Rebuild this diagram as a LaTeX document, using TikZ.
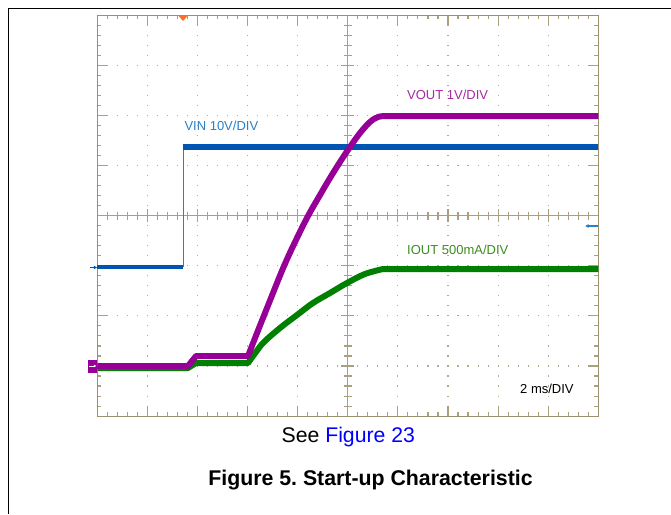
\documentclass[tikz,border=0pt]{standalone}
\usepackage{fontspec}
\setmainfont{Liberation Sans}
\usetikzlibrary{arrows.meta}

\definecolor{scopegrid}{RGB}{155,145,112}
\definecolor{scopetick}{RGB}{170,160,126}
\definecolor{scopedot}{RGB}{178,170,138}
\definecolor{vinblue}{RGB}{0,84,178}
\definecolor{vinlabel}{RGB}{40,128,200}
\definecolor{voutmag}{RGB}{150,0,150}
\definecolor{voutlabel}{RGB}{165,40,165}
\definecolor{ioutgreen}{RGB}{0,128,0}
\definecolor{ioutlabel}{RGB}{60,140,30}
\definecolor{trigorange}{RGB}{255,110,40}

\begin{document}
\begin{tikzpicture}[
      x=1pt,y=-1pt,
      lbl/.style={anchor=base west,inner sep=0pt,font=\fontsize{13}{15}\selectfont},
      captext/.style={anchor=base,inner sep=0pt,font=\fontsize{21.2}{25}\selectfont},
      border/.style={draw=scopegrid,line width=1.1pt},
      tick/.style={draw=scopetick,line width=1.1pt},
      dots/.style={draw=scopedot,line width=1.1pt,dash pattern=on 1.1pt off 8.92pt,dash phase=0.55pt},
      trace/.style={line width=6pt,line join=round},
      >=Latex
    ]
    \useasboundingbox (0,0) rectangle (671,514);

    % Page frame
    \draw[line width=1.3pt] (8.3,514) -- (8.3,8.3) -- (671,8.3);

    % Dotted divisions
    \foreach \i in {1,2,3,4,6,7,8,9}
      \draw[dots] (97.3+\i*50.1,15.3) -- (97.3+\i*50.1,416.1);
    \foreach \j in {1,2,3,5,6,7}
      \draw[dots] (97.3,15.3+\j*50.1) -- (598.3,15.3+\j*50.1);

    % Ticks on the border and on the centre axes
    \foreach \k in {1,...,49} {
      \pgfmathsetmacro\tl{4+6*(mod(\k,5)==0)}
      \pgfmathsetmacro\cl{4+2.5*(mod(\k,5)==0)}
      \draw[tick] (97.3+\k*10.02,15.3) -- ++(0,\tl);
      \draw[tick] (97.3+\k*10.02,416.1) -- ++(0,-\tl);
      \draw[tick] (97.3+\k*10.02,215.7-\cl) -- ++(0,2*\cl);
    }
    \foreach \k in {1,...,39} {
      \pgfmathsetmacro\tl{4+6*(mod(\k,5)==0)}
      \pgfmathsetmacro\cl{4+2.5*(mod(\k,5)==0)}
      \draw[tick] (97.3,15.3+\k*10.02) -- ++(\tl,0);
      \draw[tick] (598.3,15.3+\k*10.02) -- ++(-\tl,0);
      \draw[tick] (347.8-\cl,15.3+\k*10.02) -- ++(2*\cl,0);
    }
    \draw[tick] (347.8,15.3) -- (347.8,416.1);
    \draw[tick] (97.3,215.7) -- (598.3,215.7);
    \draw[border] (97.3,15.3) rectangle (598.3,416.1);

    % VIN trace
    \draw[vinblue,line width=4.5pt] (97.3,267) -- (183,267);
    \draw[vinlabel,line width=1pt] (183,267) -- (183,147);
    \draw[vinblue,line width=5.5pt] (182.5,147) -- (598.3,147);

    % IOUT trace
    \draw[trace,ioutgreen] (97.3,368) -- (188,368) -- (196,363) -- (248,363)
      -- plot[smooth,tension=0.6] coordinates {(248,363) (256,352) (264,342) (280,328)
         (297,315) (313,303) (330,293) (347,283) (365,274) (383,269)}
      -- (598.3,269);

    % VOUT trace
    \draw[trace,voutmag] (97.3,366) -- (188,366) -- (196,356) -- (248,356)
      -- plot[smooth,tension=0.6] coordinates {(248,356) (259,328) (271,298) (284,266)
         (296,240) (308,216) (320,195) (330,178) (340,162) (350,147) (360,133)
         (370,122) (378,117) (386,116)}
      -- (598.3,116);

    % Channel and trigger markers
    \fill[voutmag] (88.3,359.5) rectangle (97.3,373);
    \draw[white,line width=0.8pt,-{Latex[length=2.5pt,width=3pt]}] (89.3,366) -- (96.3,366);
    \draw[vinblue,line width=1.2pt,-{Latex[length=3.5pt,width=4pt]}] (89.5,267.5) -- (97.3,267.5);
    \draw[vinlabel,line width=1.2pt,-{Latex[length=3.5pt,width=4pt]}] (598,226) -- (585,226);
    \fill[trigorange] (178,15.3) -- (188,15.3) -- (183,21) -- cycle;

    % Labels
    \node[lbl,text=vinlabel] (vinlbl) at (184.3,130) {VIN 10V/DIV};
    \node[lbl,text=voutlabel] (voutlbl) at (407,99) {VOUT 1V/DIV};
    \node[lbl,text=ioutlabel] (ioutlbl) at (407,254) {IOUT 500mA/DIV};
    \node[lbl] (timebase) at (520,393) {2 ms/DIV};

    % Caption
    \node[captext] (seefig) at (348.3,442.5) {See \textcolor{blue}{Figure 23}};
    \node[captext,font=\fontsize{21.3}{25}\selectfont\bfseries] (figcap) at (370.5,485) {Figure 5.\ Start-up Characteristic};

  \end{tikzpicture}
\end{document}
